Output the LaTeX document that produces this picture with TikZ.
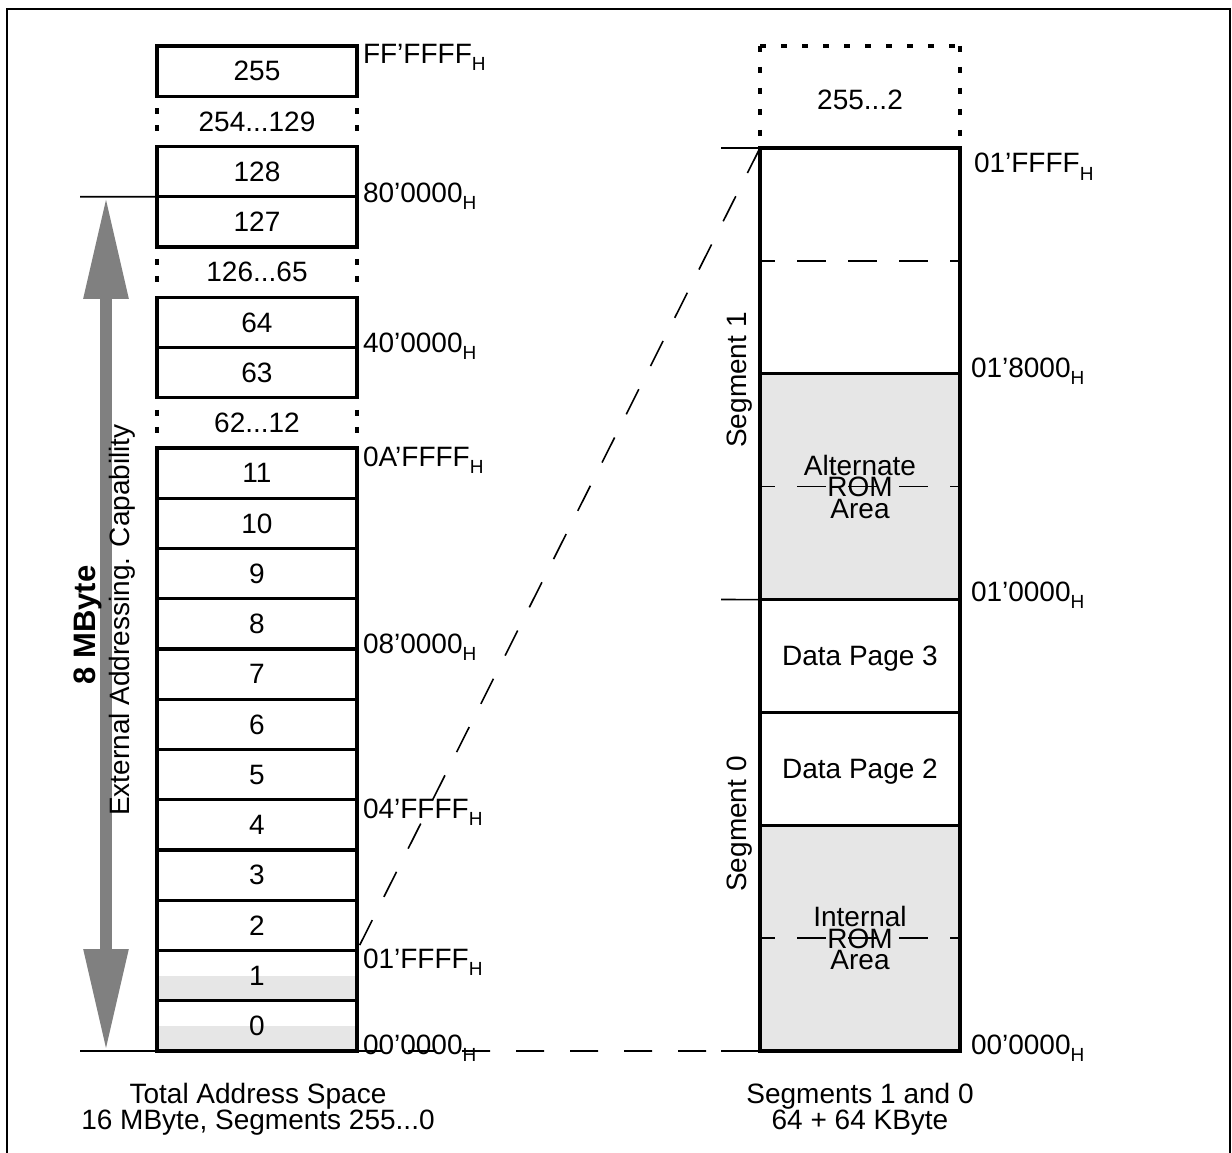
\documentclass[tikz,border=0pt]{standalone}
\usepackage{fontspec}
\setmainfont{Liberation Sans}
\usetikzlibrary{arrows.meta}
\definecolor{romgrey}{HTML}{E6E6E6}
\definecolor{arrgrey}{HTML}{808080}
\newcommand\hx{\raisebox{-7pt}{\fontsize{19}{19}\selectfont H}}
\begin{document}
\begin{tikzpicture}[x=1pt,y=-1pt,
  every node/.style={font=\fontsize{28}{30}\selectfont, inner sep=0pt, outer sep=0pt},
  cell/.style={draw, line width=3.2pt, minimum width=200pt, minimum height=50.25pt},
  gapcell/.style={minimum width=200pt, minimum height=50.25pt},
  dotside/.style={line width=3.2pt, dash pattern=on 6pt off 11pt},
  dotbox/.style={line width=3.2pt, dash pattern=on 6pt off 15pt},
  addr/.style={anchor=base west},
  thinline/.style={line width=1.6pt},
  longdash/.style={line width=1.6pt, dash pattern=on 28pt off 26pt},
  romdash/.style={line width=1.6pt, dash pattern=on 29pt off 22pt, dash phase=14pt},
  quarter/.style={draw, line width=3.2pt, minimum width=200pt, minimum height=225.75pt},
  half/.style={draw, line width=3.2pt, minimum width=200pt, minimum height=112.875pt, text depth=0pt},
  caption/.style={align=center, anchor=north, font=\fontsize{28}{23.5}\selectfont},
  vlabel/.style={rotate=90},
]
\useasboundingbox (0,0) rectangle (1232,1153);
% frame
\draw[line width=2pt] (7,1153) -- (7,9) -- (1230,9) -- (1230,1153);

% grey lower halves of segments 1 and 0
\fill[romgrey] (157,975.6) rectangle (357,1001);
\fill[romgrey] (157,1025.9) rectangle (357,1051);

% left column
\node[cell]    (b255) at (257,71.1)  {255};
\node[gapcell] (b254) at (257,121.4) {254...129};
\node[cell]    (b128) at (257,171.6) {128};
\node[cell]    (b127) at (257,221.9) {127};
\node[gapcell] (b126) at (257,272.1) {126...65};
\node[cell]    (b64)  at (257,322.4) {64};
\node[cell]    (b63)  at (257,372.6) {63};
\node[gapcell] (b62)  at (257,422.9) {62...12};
\node[cell]    (b11)  at (257,473.1) {11};
\node[cell]    (b10)  at (257,523.4) {10};
\node[cell]    (b9)   at (257,573.6) {9};
\node[cell]    (b8)   at (257,623.9) {8};
\node[cell]    (b7)   at (257,674.1) {7};
\node[cell]    (b6)   at (257,724.4) {6};
\node[cell]    (b5)   at (257,774.6) {5};
\node[cell]    (b4)   at (257,824.9) {4};
\node[cell]    (b3)   at (257,875.1) {3};
\node[cell]    (b2)   at (257,925.4) {2};
\node[cell]    (b1)   at (257,975.6) {1};
\node[cell]    (b0)   at (257,1025.9) {0};

% dotted sides of the gap rows
\foreach \g in {b254,b126,b62}{
  \draw[dotside] ([yshift=-12pt]\g.north west) -- ([yshift=12pt]\g.south west);
  \draw[dotside] ([yshift=-12pt]\g.north east) -- ([yshift=12pt]\g.south east);
}

% left addresses
\node[addr] (aFF) at (363,64)   {FF'FFFF\hx};
\node[addr] (a80) at (363,202)  {80'0000\hx};
\node[addr] (a40) at (363,352)  {40'0000\hx};
\node[addr] (a0A) at (363,466)  {0A'FFFF\hx};
\node[addr] (a08) at (363,653)  {08'0000\hx};
\node[addr] (a04) at (363,818)  {04'FFFF\hx};
\node[addr] (a01) at (363,968)  {01'FFFF\hx};
\node[addr] (a00) at (363,1054) {00'0000\hx};

% arrow and extension lines
\coordinate (etop) at (80,196.75);
\coordinate (ebot) at (80,1051);
\draw[thinline] (etop) -- (b127.north west);
\draw[thinline] (ebot) -- (b0.south west);
\coordinate (atop) at (106,196.75);
\coordinate (abot) at (106,1051);
\draw[arrgrey, line width=12pt,
  {Triangle[length=102pt,width=42pt]}-{Triangle[length=102pt,width=42pt]}]
  (atop) -- (abot);
\node[vlabel, font=\fontsize{31}{31}\selectfont\bfseries] (mb) at (88,625) {8 MByte};
\node[vlabel] (ext) at (122,620) {External Addressing. Capability};

% right column
\node[quarter] (s1top) at (860,260.875) {};
\node[quarter, fill=romgrey, align=center, font=\fontsize{28}{21.5}\selectfont] (altrom) at (860,486.625) {Alternate\\ROM\\Area};
\node[half] (dp3) at (860,656.06) {Data Page 3};
\node[half] (dp2) at (860,768.94) {Data Page 2};
\node[quarter, fill=romgrey, align=center, font=\fontsize{28}{21.5}\selectfont] (introm) at (860,938.125) {Internal\\ROM\\Area};
\draw[romdash] (s1top.west) -- (s1top.east);
\draw[romdash] (altrom.west) -- (altrom.east);
\draw[romdash] (introm.west) -- (introm.east);

% dotted 255...2 block
\coordinate (dtl) at (760,46);
\coordinate (dtr) at (960,46);
\draw[dotbox] (dtl) -- (dtr);
\draw[dotbox] (dtl) -- (s1top.north west);
\draw[dotbox] (dtr) -- (s1top.north east);
\node (r255) at (860,100) {255...2};

% right addresses
\node[addr] (rFF) at (974,173)  {01'FFFF\hx};
\node[addr] (r80) at (971,377)  {01'8000\hx};
\node[addr] (r10) at (971,601)  {01'0000\hx};
\node[addr] (r00) at (971,1054) {00'0000\hx};

\node[vlabel] (seg1) at (740,380) {Segment 1};
\node[vlabel] (seg0) at (740,824) {Segment 0};

% extension lines right
\coordinate (rt) at (721,148);
\coordinate (rm) at (721,599.5);
\coordinate (rb) at (721,1051);
\draw[thinline] (rt) -- (s1top.north west);
\draw[thinline] (rm) -- (dp3.north west);
\draw[thinline] (rb) -- (introm.south west);

% mapping lines
\draw[longdash] (s1top.north west) -- (b1.north east);
\draw[longdash] (introm.south west) -- (b0.south east);

% captions
\node[caption] (capl) at (258,1083) {Total Address Space\\16 MByte, Segments 255...0};
\node[caption] (capr) at (860,1083) {Segments 1 and 0\\64 + 64 KByte};
\end{tikzpicture}
\end{document}
